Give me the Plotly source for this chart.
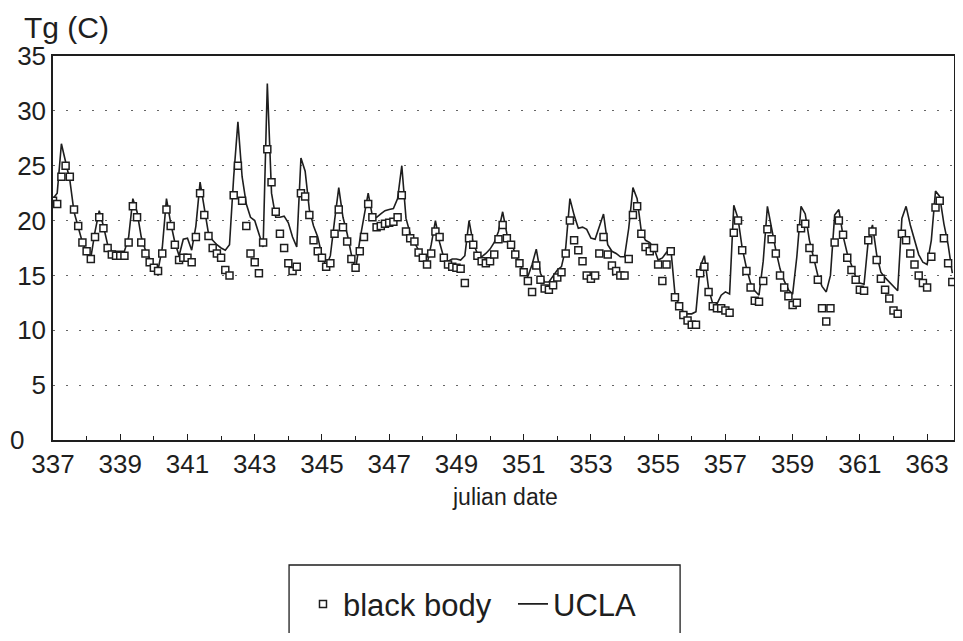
import numpy as np
import plotly.graph_objects as go

# ground temperature, one value every 3 hours, julian days 337.0 .. 363.75
ucla = [
    22.0, 22.5, 27.0, 25.3, 23.7, 20.8, 19.3, 18.0,   # 337
    17.2, 16.6, 19.0, 20.9, 19.5, 17.8, 17.2, 17.2,   # 338
    17.2, 17.2, 18.5, 22.0, 20.8, 18.5, 17.3, 16.5,   # 339
    15.8, 15.5, 17.5, 22.0, 19.8, 18.0, 16.8, 18.3,   # 340
    18.4, 17.3, 19.5, 23.5, 21.0, 18.8, 18.2, 17.8,   # 341
    17.5, 17.3, 17.8, 24.0, 29.0, 24.0, 21.5, 20.3,   # 342
    20.0, 18.8, 17.6, 32.5, 22.5, 20.3, 20.3, 20.4,   # 343
    19.8, 18.5, 17.6, 25.7, 24.5, 21.0, 19.5, 18.5,   # 344
    16.8, 15.8, 16.8, 20.0, 23.0, 20.3, 18.8, 16.9,   # 345
    15.5, 18.2, 20.2, 22.5, 20.4, 20.3, 20.6, 20.9,   # 346
    21.0, 21.1, 22.0, 25.0, 20.2, 18.8, 18.0, 17.3,   # 347
    16.4, 16.0, 17.8, 20.0, 18.0, 16.6, 16.3, 16.5,   # 348
    16.5, 16.4, 16.8, 20.0, 17.9, 17.0, 16.7, 17.0,   # 349
    17.4, 18.0, 19.0, 20.8, 18.8, 18.0, 17.0, 16.0,   # 350
    15.4, 14.9, 16.0, 17.4, 15.2, 14.4, 14.4, 15.0,   # 351
    15.5, 15.8, 17.5, 22.0, 20.5, 19.3, 19.4, 19.2,   # 352
    18.4, 18.3, 19.5, 20.6, 17.8, 17.2, 17.0, 16.7,   # 353
    16.7, 19.3, 23.0, 22.0, 19.0, 18.2, 18.0, 17.5,   # 354
    16.4, 16.6, 17.1, 17.5, 13.3, 12.2, 11.7, 11.5,   # 355
    11.5, 11.7, 15.8, 16.8, 13.8, 12.4, 12.4, 13.2,   # 356
    13.5, 13.3, 21.4, 20.2, 17.5, 15.7, 14.3, 13.6,   # 357
    13.2, 16.3, 21.3, 19.2, 17.3, 15.6, 14.5, 13.7,   # 358
    13.3, 16.7, 21.3, 20.6, 18.2, 16.6, 15.0, 14.0,   # 359
    13.5, 15.0, 20.5, 21.0, 18.6, 17.0, 16.0, 14.9,   # 360
    14.3, 14.2, 18.2, 19.6, 16.9, 15.3, 14.8, 14.4,   # 361
    14.0, 13.6, 20.2, 21.3, 19.6, 18.2, 16.9, 16.2,   # 362
    16.0, 18.2, 22.7, 22.2, 19.7, 17.8, 15.2,         # 363
]

black_body = [
    21.8, 21.5, 24.0, 25.0, 24.0, 21.0, 19.5, 18.0,   # 337
    17.2, 16.5, 18.5, 20.3, 19.3, 17.5, 16.9, 16.8,   # 338
    16.8, 16.8, 18.0, 21.3, 20.3, 18.0, 17.0, 16.2,   # 339
    15.7, 15.4, 17.0, 21.0, 19.5, 17.8, 16.4, 16.6,   # 340
    16.6, 16.2, 18.5, 22.5, 20.5, 18.6, 17.5, 17.0,   # 341
    16.6, 15.5, 15.0, 22.3, 25.0, 21.8, 19.5, 17.0,   # 342
    16.2, 15.2, 18.0, 26.5, 23.5, 20.8, 18.8, 17.5,   # 343
    16.1, 15.4, 15.8, 22.5, 22.2, 20.5, 18.2, 17.2,   # 344
    16.6, 15.8, 16.1, 18.8, 21.0, 19.4, 18.1, 16.5,   # 345
    15.7, 17.2, 18.5, 21.5, 20.3, 19.4, 19.5, 19.7,   # 346
    19.8, 19.9, 20.3, 22.3, 19.0, 18.4, 18.1, 17.1,   # 347
    16.6, 16.0, 17.0, 19.0, 18.5, 16.6, 16.0, 15.8,   # 348
    15.7, 15.6, 14.3, 18.4, 17.8, 16.8, 16.3, 16.1,   # 349
    16.3, 16.9, 18.3, 19.6, 18.4, 17.8, 16.9, 16.1,   # 350
    15.3, 14.5, 13.5, 15.9, 14.6, 13.8, 13.7, 14.1,   # 351
    14.8, 15.3, 17.0, 20.0, 18.2, 17.3, 16.3, 15.0,   # 352
    14.7, 15.0, 17.0, 18.5, 16.9, 15.9, 15.4, 15.0,   # 353
    15.0, 16.5, 20.5, 21.3, 18.8, 17.6, 17.2, 17.5,   # 354
    16.0, 14.5, 16.0, 17.2, 13.0, 12.2, 11.4, 10.9,   # 355
    10.5, 10.5, 15.2, 15.8, 13.5, 12.2, 12.0, 12.0,   # 356
    11.8, 11.6, 18.9, 20.0, 17.3, 15.4, 13.9, 12.7,   # 357
    12.6, 14.5, 19.2, 18.3, 17.0, 15.0, 13.9, 13.1,   # 358
    12.3, 12.5, 19.3, 19.7, 17.5, 16.5, 14.6, 12.0,   # 359
    10.8, 12.0, 18.0, 20.0, 18.7, 16.6, 15.5, 14.6,   # 360
    13.7, 13.6, 18.2, 19.0, 16.4, 14.7, 13.7, 12.9,   # 361
    11.8, 11.5, 18.8, 18.2, 17.0, 16.0, 15.0, 14.3,   # 362
    13.9, 16.7, 21.2, 21.8, 18.4, 16.1, 14.4,         # 363
]

start_day = 337
samples_per_day = 8
days = start_day + np.arange(len(ucla)) / samples_per_day

x_ticks = list(range(337, 364, 2))
y_ticks = [0, 5, 10, 15, 20, 25, 30, 35]
y_labels = ['0\u00a0\u00a0\u00a0', '5', '10', '15', '20', '25', '30', '35']

ink = '#1e1e1e'
font = 'Liberation Sans, Arial, sans-serif'

fig = go.Figure()

fig.add_trace(go.Scatter(
    x=days, y=ucla, name='UCLA', mode='lines',
    line=dict(color=ink, width=1.6),
    legendrank=2))

fig.add_trace(go.Scatter(
    x=days, y=black_body, name='black body', mode='markers',
    marker=dict(symbol='square', size=7, color='white',
                line=dict(color=ink, width=1.5)),
    legendrank=1))

# the page body keeps its default 8px margin, so the figure is sized to fit inside it
fig.update_layout(
    width=947, height=625,
    paper_bgcolor='white', plot_bgcolor='white',
    margin=dict(l=45, r=1, t=48, b=193, autoexpand=False),
    font=dict(family=font, size=26, color=ink),
    showlegend=True,
    legend=dict(orientation='h', xref='container', yref='container',
                x=0.3115, xanchor='left', y=0.046, yanchor='middle',
                font=dict(size=31), itemwidth=30,
                entrywidth=165, entrywidthmode='pixels',
                bgcolor='rgba(0,0,0,0)'),
    xaxis=dict(range=[337, 363.8], tickvals=x_ticks, automargin=False,
               ticks='inside', ticklen=6, tickcolor=ink,
               minor=dict(dtick=1, tick0=337, ticks='inside', ticklen=4, tickcolor=ink),
               showgrid=False, zeroline=False,
               showline=True, linecolor=ink, linewidth=1.5, mirror=True,
               tickfont=dict(size=26)),
    yaxis=dict(range=[0, 35], tickvals=y_ticks, ticktext=y_labels, automargin=False,
               ticks='', showgrid=True, gridcolor='#666', gridwidth=1,
               griddash='2px,11px', zeroline=False,
               showline=True, linecolor=ink, linewidth=1.5, mirror=True,
               tickfont=dict(size=26)),
    annotations=[
        dict(text='Tg (C)', xref='paper', yref='paper', x=-0.034, y=1.0755,
             xanchor='left', yanchor='middle', showarrow=False,
             font=dict(size=30)),
        dict(text='julian date', xref='paper', yref='paper', x=0.502, y=-0.148,
             xanchor='center', yanchor='middle', showarrow=False,
             font=dict(size=23)),
    ],
    shapes=[
        dict(type='rect', xref='paper', yref='paper',
             x0=0.262, x1=0.696, y0=-0.56, y1=-0.3255,
             line=dict(color=ink, width=1.3)),
    ],
)

fig.write_html("out.html")
